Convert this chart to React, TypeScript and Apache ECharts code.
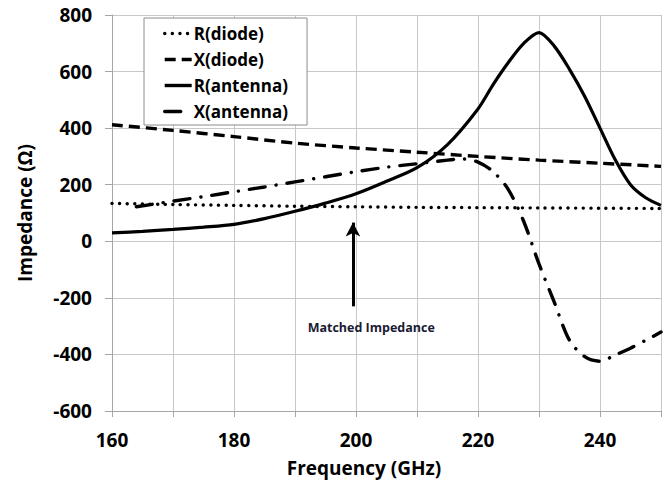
import React, { useEffect, useRef } from 'react';
import * as echarts from 'echarts';

// ---- data ----
const rDiodeFreq = [160, 170, 180, 190, 200, 210, 220, 230, 240, 250];
const rDiodeVal = [134, 130, 127, 124, 122, 120, 119, 118, 117, 116];

const xDiodeFreq = [160, 170, 180, 190, 200, 210, 220, 230, 240, 250];
const xDiodeVal = [412, 392, 370, 347, 330, 315, 300, 287, 276, 265];

const rAntFreq = [160, 165, 170, 175, 180, 185, 190, 195, 200, 205, 210, 215, 220, 222.5, 225, 227.5, 230, 232.5, 235, 237.5, 240, 242.5, 245, 247.5, 250];
const rAntVal = [30, 35, 42, 50, 60, 80, 106, 135, 168, 212, 260, 342, 468, 555, 633, 700, 738, 690, 608, 512, 400, 288, 200, 154, 127];

const xAntFreq = [164, 170, 175, 180, 185, 190, 195, 200, 205, 210, 215, 217.5, 220, 222.5, 225, 227.5, 230, 232.5, 235, 237.5, 240, 242.5, 245, 247.5, 250];
const xAntVal = [122, 142, 158, 175, 192, 210, 228, 246, 262, 274, 287, 291, 280, 246, 182, 70, -80, -215, -350, -408, -424, -402, -378, -350, -321];

const seriesNames = ['R(diode)', 'X(diode)', 'R(antenna)', 'X(antenna)'];
const yTicks = { min: -600, max: 800, interval: 200 };
const xTicks = { min: 160, max: 250, interval: 10, labelStep: 20 };
const arrowFreq = 199.5;
const arrowFrom = -230;
const arrowTo = 66;
const noteFreq = 202.5;
const noteVal = -304;
const noteText = 'Matched Impedance';
const xTitle = 'Frequency (GHz)';
const yTitle = 'Impedance (Ω)';

const zip = (xs: number[], ys: number[]) => xs.map((x, i) => [x, ys[i]]);

const FONT = '"Open Sans", "Liberation Sans", sans-serif';

export default function App() {
  const ref = useRef<HTMLDivElement>(null);
  useEffect(() => {
    const chart = echarts.init(ref.current!, null, { renderer: 'svg' });
    const baseLine = { color: '#000', width: 3.2 };
    chart.setOption({
      animation: false,
      backgroundColor: '#fff',
      grid: { left: 112, right: 4, top: 15, bottom: 78, containLabel: false },
      xAxis: {
        type: 'value',
        min: xTicks.min,
        max: xTicks.max,
        interval: xTicks.interval,
        axisLine: { show: true, onZero: false, lineStyle: { color: '#a6a6a6', width: 1 } },
        axisTick: { show: true, length: 6, lineStyle: { color: '#a6a6a6' } },
        axisLabel: {
          margin: 19,
          color: '#000',
          fontFamily: FONT,
          fontWeight: 'bold',
          fontSize: 19,
          showMaxLabel: true,
          formatter: (v: number) => (v % xTicks.labelStep === 0 && v < xTicks.max ? String(v) : ''),
        },
        splitLine: { show: true, lineStyle: { color: '#c8c8c8', width: 1 } },
      },
      yAxis: {
        type: 'value',
        min: yTicks.min,
        max: yTicks.max,
        interval: yTicks.interval,
        axisLine: { show: true, onZero: false, lineStyle: { color: '#a6a6a6', width: 1 } },
        axisTick: { show: true, length: 7, lineStyle: { color: '#a6a6a6' } },
        axisLabel: {
          margin: 20,
          color: '#000',
          fontFamily: FONT,
          fontWeight: 'bold',
          fontSize: 19,
        },
        splitLine: { show: true, lineStyle: { color: '#c8c8c8', width: 1 } },
      },
      legend: {
        orient: 'vertical',
        left: 144,
        top: 18,
        padding: [7, 19, 5, 19],
        itemWidth: 27,
        itemHeight: 14,
        itemGap: 9,
        backgroundColor: '#fff',
        borderColor: '#8c8c8c',
        borderWidth: 1,
        data: seriesNames,
        itemStyle: { opacity: 0 },
        lineStyle: { width: 3.4 },
        textStyle: { color: '#000', fontFamily: FONT, fontWeight: 'bold', fontSize: 17, padding: [0, 0, 0, -3] },
      },
      graphic: [
        {
          type: 'text',
          x: 25,
          y: 213,
          rotation: Math.PI / 2,
          style: { text: yTitle, font: `bold 19px ${FONT}`, fill: '#000', textAlign: 'center', textVerticalAlign: 'middle' },
        },
        {
          type: 'text',
          x: 364,
          y: 468,
          style: { text: xTitle, font: `bold 19px ${FONT}`, fill: '#000', textAlign: 'center', textVerticalAlign: 'middle' },
        },
      ],
      series: [
        {
          name: seriesNames[0],
          type: 'line',
          data: zip(rDiodeFreq, rDiodeVal),
          symbol: 'none',
          smooth: 0.3,
          z: 3,
          lineStyle: { ...baseLine, width: 3.4, type: [0.1, 7.5], cap: 'round' },
          itemStyle: { color: '#000' },
          markLine: {
            silent: true,
            symbol: ['none', 'arrow'],
            symbolSize: [11, 14],
            label: { show: false },
            lineStyle: { color: '#000', width: 3, type: 'solid' },
            data: [[{ coord: [arrowFreq, arrowFrom] }, { coord: [arrowFreq, arrowTo] }]],
          },
          markPoint: {
            silent: true,
            symbol: 'rect',
            symbolSize: 1,
            itemStyle: { color: 'transparent' },
            label: {
              show: true,
              position: 'inside',
              formatter: noteText,
              color: '#1a1a33',
              fontFamily: FONT,
              fontWeight: 'bold',
              fontSize: 12.5,
            },
            data: [{ coord: [noteFreq, noteVal] }],
          },
        },
        {
          name: seriesNames[1],
          type: 'line',
          data: zip(xDiodeFreq, xDiodeVal),
          symbol: 'none',
          smooth: 0.3,
          z: 3,
          lineStyle: { ...baseLine, width: 3.4, type: [11, 6], cap: 'butt' },
          itemStyle: { color: '#000' },
        },
        {
          name: seriesNames[2],
          type: 'line',
          data: zip(rAntFreq, rAntVal),
          symbol: 'none',
          smooth: 0.3,
          z: 3,
          lineStyle: { ...baseLine, width: 3.2, type: 'solid' },
          itemStyle: { color: '#000' },
        },
        {
          name: seriesNames[3],
          type: 'line',
          data: zip(xAntFreq, xAntVal),
          symbol: 'none',
          smooth: 0.3,
          z: 3,
          lineStyle: { ...baseLine, width: 3.4, type: [16, 11, 0.1, 11], cap: 'round' },
          itemStyle: { color: '#000' },
        },
      ],
    });
    return () => chart.dispose();
  }, []);
  return (
    <div
      ref={ref}
      style={{ position: 'fixed', left: 0, top: 0, width: 665, height: 489, background: '#fff' }}
    />
  );
}
